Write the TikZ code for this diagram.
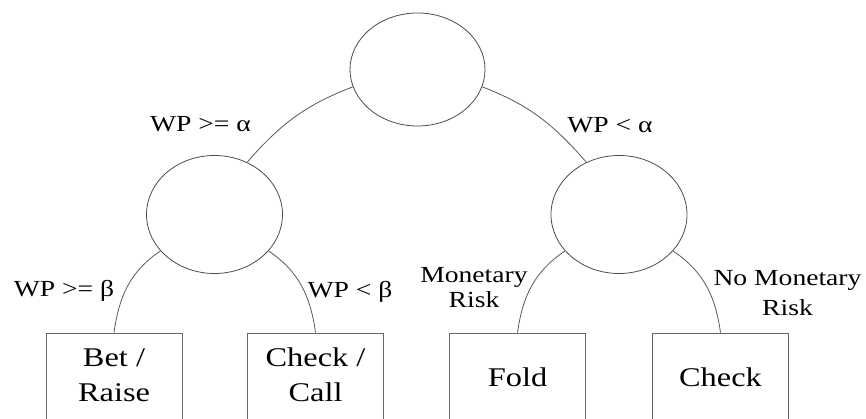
\documentclass[tikz,border=0pt]{standalone}
\usepackage{fontspec}
\usepackage{graphicx}
\setmainfont{Liberation Serif}
\usetikzlibrary{shapes.geometric}
\newcommand{\lblfont}{\fontsize{23}{25}\selectfont}
\newcommand{\boxfont}{\fontsize{27}{35}\selectfont}
\newcommand{\sx}[1]{\scalebox{1.2}[1]{#1}}
\begin{document}
\begin{tikzpicture}[x=1pt,y=1pt,
  ell/.style={ellipse,draw=black!70,line width=0.8pt,minimum width=136pt,minimum height=118pt,inner sep=0pt},
  leaf/.style={rectangle,draw=black!60,line width=0.9pt,minimum width=136pt,minimum height=88pt,inner sep=0pt,font=\boxfont,text=black},
  lbl/.style={inner sep=0pt,font=\lblfont,text=black},
  conn/.style={draw=black!65,line width=0.8pt}]
\useasboundingbox (0,0) rectangle (866,419);
\clip (0,0) rectangle (866,419);
% decision nodes
\node[ell,minimum width=135pt,minimum height=113pt] (root) at (417.5,349.5) {};
\node[ell] (L) at (214.5,204.5) {};
\node[ell] (R) at (619,204.5) {};
% leaves
\node[leaf] (b1) at (114,42) {\sx{\begin{tabular}{@{}c@{}}Bet /\\Raise\end{tabular}}};
\node[leaf] (b2) at (315.5,42) {\sx{\begin{tabular}{@{}c@{}}Check /\\Call\end{tabular}}};
\node[leaf] (b3) at (517.5,42) {\sx{Fold}};
\node[leaf] (b4) at (720.5,42) {\sx{Check}};
% connectors
\draw[conn] (root.195) to[out=201,in=49] (L.58);
\draw[conn] (root.-15) to[out=-21,in=131] (R.122);
\draw[conn] (L.214) to[out=214,in=82] (b1.north);
\draw[conn] (L.-34) to[out=-34,in=98] (b2.north);
\draw[conn] (R.214) to[out=214,in=82] (b3.north);
\draw[conn] (R.-34) to[out=-34,in=98] (b4.north);
% labels
\node[lbl,anchor=base] (la) at (200.5,287) {\sx{WP >= α}};
\node[lbl,anchor=base] (ra) at (610,286) {\sx{WP < α}};
\node[lbl,anchor=base] (lb) at (64,122) {\sx{WP >= β}};
\node[lbl,anchor=base] (rb) at (350,121) {\sx{WP < β}};
\node[lbl,anchor=north] (mr) at (474,154.5) {\sx{\begin{tabular}{@{}c@{}}Monetary\\Risk\end{tabular}}};
\node[lbl,anchor=north] (nmr) at (787.5,154.5) {\sx{\fontsize{23}{30}\selectfont\begin{tabular}{@{}c@{}}No Monetary\\Risk\end{tabular}}};
\end{tikzpicture}
\end{document}
